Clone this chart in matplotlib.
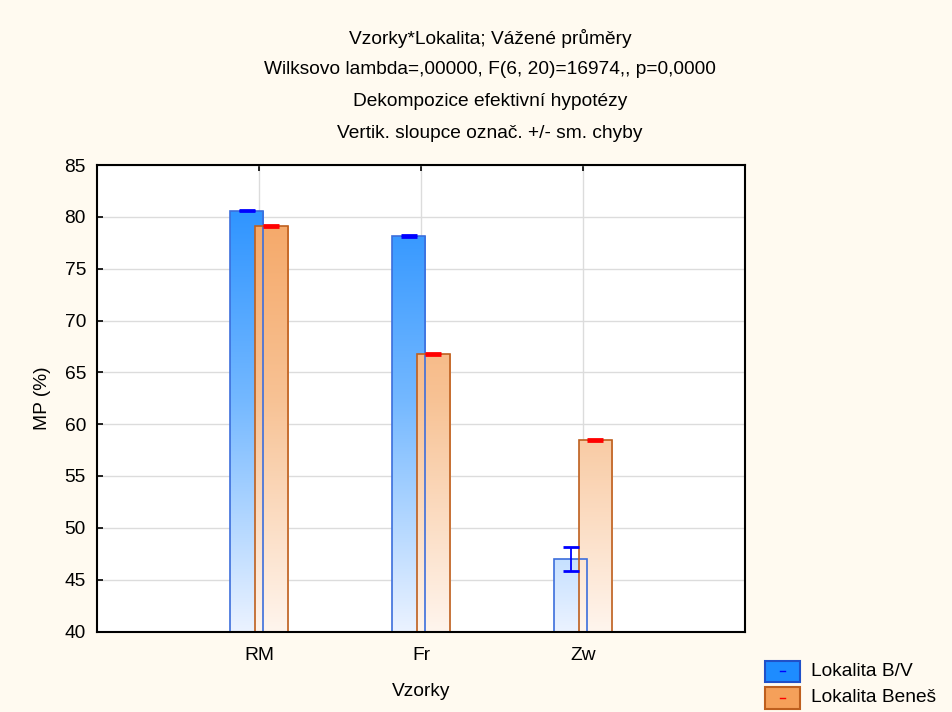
import numpy as np
import matplotlib
matplotlib.use("Agg")
import matplotlib.pyplot as plt
from matplotlib.patches import Rectangle
from matplotlib.lines import Line2D
from matplotlib.colors import LinearSegmentedColormap

plt.rcParams['font.family'] = ['Liberation Sans', 'DejaVu Sans']

categories = ['RM', 'Fr', 'Zw']
series_names = ['Lokalita B/V', 'Lokalita Beneš']
means_bv = [80.6, 78.15, 47.0]
se_bv = [0.08, 0.08, 1.17]
means_benes = [79.1, 66.76, 58.45]
se_benes = [0.08, 0.08, 0.08]
title_lines = ['Vzorky*Lokalita; Vážené průměry',
               'Wilksovo lambda=,00000, F(6, 20)=16974,, p=0,0000',
               'Dekompozice efektivní hypotézy',
               'Vertik. sloupce označ. +/- sm. chyby']
yticks = [40, 45, 50, 55, 60, 65, 70, 75, 80, 85]

fs = 13.8
bg = '#FFFAF0'
fig = plt.figure(figsize=(9.53, 7.12), dpi=100, facecolor=bg)
ax = fig.add_axes([97/953, 1-631.5/712, (745-97)/953, (631.5-165)/712])
ax.set_facecolor('white')

ymin, ymax = 40, 85
x = np.arange(len(categories))
width = 0.205
offset = 0.075

cmap_blue = LinearSegmentedColormap.from_list('b', [(0.92, 0.95, 1.0), (0.45, 0.72, 1.0), (0.12, 0.55, 1.0)])
cmap_orng = LinearSegmentedColormap.from_list('o', [(1.0, 0.96, 0.93), (0.97, 0.76, 0.58), (0.96, 0.63, 0.36)])
grad = np.linspace(0, 1, 256).reshape(-1, 1)

def draw_bars(xs, vals, cmap, edge):
    for xi, v in zip(xs, vals):
        r = Rectangle((xi - width/2, ymin), width, v - ymin, facecolor='none',
                      edgecolor=edge, linewidth=1.2, zorder=3)
        ax.add_patch(r)
        im = ax.imshow(grad, cmap=cmap, origin='lower', aspect='auto',
                       extent=[xi - width/2, xi + width/2, ymin, ymax], zorder=2.5)
        im.set_clip_path(r)

draw_bars(x - offset, means_bv, cmap_blue, '#3C6EDC')
draw_bars(x + offset, means_benes, cmap_orng, '#BE5F1E')

ax.errorbar(x - offset, means_bv, yerr=se_bv, fmt='none', ecolor='#0000FF',
            elinewidth=1.3, capsize=5.5, capthick=2, zorder=4)
ax.errorbar(x + offset, means_benes, yerr=se_benes, fmt='none', ecolor='#FF0000',
            elinewidth=1.3, capsize=5.5, capthick=2, zorder=4)

ax.set_xlim(-1, 3)
ax.set_ylim(ymin, ymax)
ax.set_xticks(x)
ax.set_xticklabels(categories, fontsize=fs)
ax.set_yticks(yticks)
ax.set_yticklabels([str(t) for t in yticks], fontsize=fs)
ax.tick_params(direction='in', length=4, width=1.2, top=True, right=False, pad=8)
ax.tick_params(axis='x', pad=11)
ax.grid(True, color='#DCDCDC', linewidth=1)
ax.set_axisbelow(True)
for s in ax.spines.values():
    s.set_linewidth(1.5)
    s.set_color('black')
    s.set_zorder(5)

ax.set_xlabel('Vzorky', fontsize=fs, labelpad=14)
ax.set_ylabel('MP (%)', fontsize=fs, labelpad=10)

for i, line in enumerate(title_lines):
    fig.text(490/953, 1 - (38 + 32*i)/712, line, ha='center', va='center', fontsize=fs)

# legend
leg_items = [('#1E8CFF', '#2050C8', '#0000FF'), ('#F5A05A', '#BE5F1E', '#FF0000')]
for i, (fc, ec, mc) in enumerate(leg_items):
    y0 = 660.5 + 26.5*i
    fig.patches.append(Rectangle((765/953, 1-(y0+21.5)/712), 35.5/953, 21.5/712,
                                 transform=fig.transFigure, facecolor=fc, edgecolor=ec,
                                 linewidth=1.5))
    yc = 1 - (y0 + 10.75)/712
    fig.lines.append(Line2D([780.5/953, 785.5/953], [yc, yc], transform=fig.transFigure,
                            color=mc, linewidth=1))
    fig.text(811/953, yc, series_names[i], ha='left', va='center', fontsize=fs)

fig.savefig('out.png', dpi=100, facecolor=bg)
